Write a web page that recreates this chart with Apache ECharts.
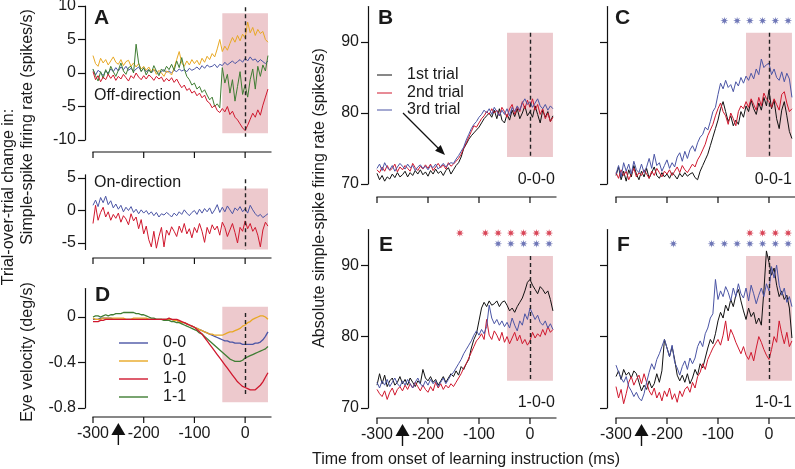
<!DOCTYPE html>
<html>
<head>
<meta charset="utf-8">
<script src="https://cdn.jsdelivr.net/npm/echarts@6/dist/echarts.min.js"></script>
<style>
  html, body { margin: 0; padding: 0; background: #fff; }
  #chart { width: 795px; height: 469px; }
</style>
</head>
<body>
<div id="chart"></div>
<script>
// time base, 5 ms bins from -300 to 45 ms
const t = [];
for (let ms = -300; ms <= 45; ms += 5) t.push(ms);

const xTicks = [-300, -200, -100, 0];
const xRange = [-300, 52];
const shadeX = [-45, 45];

// Panel A, off-direction (trial-over-trial change, spikes/s)
const off00 = [0.5, -0.3, 0.4, 0.1, -0.4, 0.3, 0.0, 0.6, 0.2, 0.8,
  0.3, 0.9, 0.5, 1.0, 0.4, 0.7, 0.2, 0.6, 0.9, 0.3,
  0.7, 0.2, 0.5, 0.0, 0.4, 0.3, -0.1, 0.2, 0.5, 0.1,
  0.3, 0.0, 0.4, 0.2, 0.6, 0.3, 0.5, 0.2, 0.7, 0.4,
  0.6, 0.9, 0.5, 1.1, 0.7, 1.2, 0.9, 1.0, 1.3, 0.8,
  1.3, 1.1, 1.6, 1.2, 1.5, 1.8, 1.4, 1.7, 2.0, 1.6,
  2.2, 1.8, 2.4, 1.9, 2.1, 1.6, 2.0, 1.7, 1.4, 1.8];
const off01 = [2.6, 1.4, 1.0, 2.2, 1.5, 2.0, 1.2, 1.8, 2.4, 1.6,
  1.3, 2.0, 1.1, 1.7, 1.9, 1.0, 1.5, 0.9, 1.4, 0.6,
  1.0, 0.4, 0.9, 0.2, 0.6, -0.2, 0.4, 0.0, -0.5, 0.3,
  0.1, -0.3, 0.8, 2.0, 3.2, 1.5, 1.0, 1.8, 1.2, 2.0,
  1.4, 1.9, 1.2, 2.2, 1.6, 2.5, 2.0, 2.9, 2.4, 3.6,
  5.0, 3.2, 4.0, 3.4, 4.4, 5.3, 4.6, 5.6, 4.8, 5.8,
  5.2, 7.6, 6.0, 6.8, 5.6, 6.5, 5.9, 6.2, 5.0, 4.6];
const off10 = [0.2, -1.0, -0.4, -1.3, -0.6, -1.0, -0.2, -0.8, -0.3, -1.1,
  -0.5, -0.9, -0.2, -0.7, -1.2, -0.4, -0.8, 0.0, -0.6, -1.0,
  -0.4, -0.9, -0.3, -0.6, -1.1, -0.5, -0.9, -0.6, -1.3, -0.8,
  -1.2, -0.7, -1.4, -0.9, -1.6, -2.2, -1.8, -2.6, -2.3, -3.0,
  -2.7, -3.4, -3.0, -3.7, -3.3, -4.2, -4.5, -5.2, -4.8, -5.6,
  -5.9, -5.3, -5.8, -5.0, -6.2, -5.7, -6.6, -7.0, -7.6, -8.2,
  -8.6, -7.8, -6.9, -6.0, -6.6, -5.5, -6.3, -4.8, -3.6, -2.4];
const off11 = [0.6, -0.4, -1.2, 0.2, -0.8, 0.5, -0.3, 1.0, 0.2, -0.5,
  0.4, 1.5, 0.3, -0.2, 0.8, 1.0, 0.0, 4.3, 1.5, 0.2,
  0.8, -0.3, 0.5, 0.0, 1.1, 0.3, -0.4, 0.6, 0.2, 1.0,
  0.5, 1.3, 0.4, 1.8, 0.8, 2.3, 0.6, -0.5, -1.0, -1.8,
  -1.5, -2.4, -2.0, -2.9, -2.5, -3.3, -4.0, -3.6, -5.0, -4.6,
  -5.2, 0.8, -1.5, -0.2, -3.0, -1.0, -4.2, -2.0, 0.2, -3.2,
  -1.8, -3.6, -1.0, 0.6, -2.4, 1.0, -0.5, 1.2, 0.3, 2.6];

// Panel A, on-direction
const on00 = [0.8, 1.6, 0.6, 2.0, 1.2, 2.2, 0.9, 1.5, 0.4, 1.0,
  0.2, 0.8, -0.2, 0.5, 0.0, 0.6, -0.3, 0.2, -0.5, 0.1,
  -0.4, 0.0, -0.6, -0.2, -0.8, -0.3, -1.0, -0.5, -0.7, -0.3,
  -0.6, -1.0, -0.4, -0.8, -0.2, -0.6, 0.1, -0.4, -0.8, -0.3,
  0.0, -0.6, 0.2, -0.4, 0.3, -0.2, 0.4, -0.5, 0.1, 0.9,
  -0.3, 0.5, -0.2, 0.7, 0.1, -0.5, 0.4, 0.0, 0.6, -0.2,
  0.3, -0.4, 0.8, 0.1, -0.5, -0.9, -0.6, -1.1, -0.8, -0.5];
const on10 = [-2.0, 0.8, -1.5, -0.3, 0.5, -1.0, -0.2, -1.5, -0.6, -1.2,
  -0.4, -1.8, -0.8, -1.3, -2.2, -0.5, -1.6, -1.0, -2.8, -1.4,
  -3.6, -2.4, -4.5, -5.6, -3.2, -5.8, -4.0, -2.6, -5.6, -3.0,
  -3.8, -2.5, -3.2, -4.0, -2.4, -3.4, -2.0, -3.6, -2.8, -4.2,
  -2.6, -3.4, -2.0, -3.2, -4.9, -2.6, -3.6, -2.2, -3.0, -2.4,
  -3.8, -1.8, -2.6, -4.0, -3.0, -2.0, -3.4, -5.0, -2.6, -3.2,
  -1.6, -2.8, -2.0, -3.2, -2.6, -3.8, -5.6, -3.0, -1.8, -2.4];

// Panel D, eye velocity (deg/s)
const eye00 = [-0.02, -0.02, -0.02, -0.01, -0.01, -0.01, -0.01, -0.01, -0.02, -0.02,
  -0.02, -0.02, -0.02, -0.02, -0.02, -0.02, -0.02, -0.02, -0.02, -0.02,
  -0.02, -0.02, -0.02, -0.02, -0.02, -0.02, -0.02, -0.02, -0.02, -0.02,
  -0.02, -0.02, -0.03, -0.03, -0.04, -0.05, -0.05, -0.06, -0.07, -0.08,
  -0.09, -0.10, -0.11, -0.12, -0.13, -0.14, -0.15, -0.16, -0.17, -0.18,
  -0.19, -0.20, -0.21, -0.21, -0.22, -0.22, -0.23, -0.23, -0.23, -0.24,
  -0.24, -0.24, -0.24, -0.24, -0.23, -0.23, -0.22, -0.20, -0.17, -0.13];
const eye01 = [-0.01, -0.02, -0.02, -0.02, -0.01, -0.01, -0.01, -0.01, -0.01, -0.01,
  -0.01, -0.01, -0.01, -0.02, -0.02, -0.02, -0.01, -0.01, -0.01, -0.01,
  -0.01, -0.01, -0.02, -0.02, -0.02, -0.02, -0.02, -0.02, -0.02, -0.02,
  -0.02, -0.02, -0.03, -0.03, -0.04, -0.05, -0.05, -0.06, -0.07, -0.08,
  -0.09, -0.10, -0.11, -0.12, -0.13, -0.14, -0.15, -0.15, -0.16, -0.16,
  -0.16, -0.16, -0.15, -0.14, -0.13, -0.13, -0.12, -0.11, -0.10, -0.08,
  -0.07, -0.05, -0.04, -0.02, -0.01, 0.00, 0.01, 0.01, 0.00, -0.02];
const eye10 = [-0.04, -0.04, -0.04, -0.03, -0.03, -0.02, -0.02, -0.02, -0.02, -0.02,
  -0.02, -0.02, -0.02, -0.02, -0.02, -0.02, -0.02, -0.02, -0.02, -0.02,
  -0.02, -0.02, -0.02, -0.02, -0.02, -0.02, -0.02, -0.02, -0.02, -0.02,
  -0.01, -0.02, -0.02, -0.02, -0.03, -0.04, -0.05, -0.06, -0.07, -0.08,
  -0.09, -0.11, -0.13, -0.15, -0.18, -0.21, -0.24, -0.27, -0.30, -0.33,
  -0.36, -0.39, -0.42, -0.45, -0.48, -0.51, -0.54, -0.57, -0.59, -0.61,
  -0.62, -0.63, -0.64, -0.64, -0.64, -0.62, -0.60, -0.57, -0.53, -0.49];
const eye11 = [0.00, 0.01, 0.01, 0.00, 0.01, 0.02, 0.01, 0.02, 0.02, 0.03,
  0.03, 0.03, 0.04, 0.04, 0.04, 0.04, 0.04, 0.03, 0.03, 0.02,
  0.02, 0.01, 0.00, -0.01, -0.01, -0.02, -0.02, -0.02, -0.03, -0.03,
  -0.03, -0.04, -0.04, -0.05, -0.05, -0.06, -0.07, -0.08, -0.09, -0.10,
  -0.11, -0.12, -0.14, -0.15, -0.17, -0.19, -0.21, -0.23, -0.25, -0.27,
  -0.29, -0.31, -0.33, -0.35, -0.37, -0.38, -0.39, -0.39, -0.39, -0.38,
  -0.36, -0.35, -0.34, -0.33, -0.32, -0.31, -0.30, -0.29, -0.28, -0.26];

// Panels B, C, E, F: absolute simple-spike rate, 1st / 2nd / 3rd trial
const b1st = [71.5, 70.6, 71.2, 70.4, 71.0, 70.7, 71.4, 70.9, 71.6, 71.0,
  71.3, 71.8, 71.0, 71.6, 71.2, 71.9, 71.4, 72.0, 71.3, 71.7,
  71.1, 71.9, 71.4, 72.1, 71.5, 71.8, 71.2, 71.9, 72.3, 71.4,
  72.0, 72.6, 73.0, 73.8, 75.0, 75.6, 76.3, 76.8, 77.2, 77.6,
  78.0, 78.6, 79.2, 79.6, 80.0, 79.4, 80.4, 79.2, 80.6, 79.0,
  78.6, 79.8, 79.0, 80.4, 79.5, 80.6, 79.2, 80.0, 81.0, 79.6,
  80.2, 79.4, 81.0, 79.8, 78.6, 80.4, 79.4, 80.2, 78.8, 79.6];
const b2nd = [72.0, 71.6, 72.4, 71.8, 72.6, 71.9, 72.2, 72.8, 71.7, 72.4,
  72.0, 72.6, 72.2, 71.8, 72.9, 72.3, 71.9, 72.5, 72.1, 72.7,
  72.2, 72.8, 71.9, 72.4, 72.9, 72.3, 72.7, 72.1, 73.0, 72.5,
  72.8, 73.2, 73.6, 74.2, 75.0, 75.8, 76.6, 77.4, 78.2, 78.0,
  78.6, 79.2, 79.6, 80.2, 79.8, 80.6, 80.0, 80.4, 79.6, 80.8,
  80.2, 79.4, 80.6, 81.2, 79.8, 80.8, 80.2, 81.6, 80.6, 81.8,
  80.8, 82.0, 80.4, 81.2, 79.8, 80.6, 79.2, 80.0, 78.8, 79.4];
const b3rd = [72.2, 72.8, 71.9, 73.0, 72.3, 72.0, 72.6, 71.8, 72.4, 72.9,
  72.5, 72.1, 72.8, 72.3, 72.6, 71.9, 72.4, 72.7, 72.2, 72.5,
  72.0, 72.6, 72.3, 72.8, 72.1, 72.5, 72.9, 72.4, 72.8, 73.0,
  72.9, 73.5, 74.0, 74.6, 75.2, 76.2, 77.0, 77.8, 78.4, 78.8,
  79.4, 79.8, 80.4, 80.0, 80.6, 79.8, 80.8, 80.2, 79.6, 80.4,
  79.8, 80.6, 79.6, 80.8, 80.2, 81.0, 80.4, 81.4, 82.0, 81.2,
  81.6, 80.8, 81.4, 82.0, 81.0, 80.6, 81.2, 80.4, 81.0, 80.6];

const c1st = [71.2, 72.4, 70.6, 71.8, 70.4, 72.0, 71.0, 72.6, 71.4, 70.6,
  71.8, 71.0, 72.2, 70.8, 71.6, 72.4, 71.2, 70.8, 71.6, 71.0,
  71.4, 70.8, 71.6, 71.2, 70.7, 71.5, 71.0, 71.6, 71.1, 71.4,
  71.6, 70.9, 70.6, 71.8, 72.6, 73.4, 74.2, 75.4, 76.6, 77.8,
  79.0, 80.6, 81.6, 80.2, 78.8, 79.6, 78.2, 79.0, 78.4, 80.2,
  79.4, 81.0, 80.2, 81.8, 80.6, 79.8, 81.4, 80.4, 82.2, 81.0,
  83.2, 80.6, 81.8, 79.2, 77.8, 80.4, 81.6, 79.6, 77.4, 76.4];
const c2nd = [71.6, 70.8, 72.0, 71.2, 71.8, 70.6, 71.4, 72.2, 71.0, 71.6,
  71.2, 72.0, 71.4, 70.8, 71.8, 71.2, 72.2, 71.6, 71.0, 71.8,
  71.4, 72.0, 71.2, 71.8, 72.4, 71.6, 72.6, 72.0, 71.6, 72.2,
  72.8, 72.4, 73.4, 74.0, 74.8, 75.6, 76.8, 77.6, 78.4, 79.6,
  80.6, 81.4, 80.2, 79.6, 78.4, 80.0, 79.2, 78.2, 80.2, 81.0,
  80.6, 81.6, 80.8, 82.0, 81.2, 80.4, 82.2, 81.0, 82.8, 82.0,
  81.6, 80.8, 82.0, 81.2, 80.4, 82.6, 83.0, 81.4, 80.2, 80.6];
const c3rd = [71.4, 72.6, 71.0, 73.0, 71.8, 72.8, 71.4, 73.2, 72.0, 71.6,
  72.8, 71.6, 72.4, 73.6, 72.2, 74.2, 72.6, 73.0, 71.8, 72.6,
  73.4, 72.2, 73.0, 72.4, 73.8, 74.4, 73.2, 74.6, 73.6, 74.8,
  75.4, 74.6, 75.8, 76.6, 77.0, 78.0, 77.6, 78.8, 80.2, 80.8,
  82.6, 84.2, 83.4, 84.6, 83.6, 84.0, 83.0, 84.4, 83.8, 85.0,
  84.2, 85.2, 84.6, 85.6, 84.8, 86.2, 85.4, 87.6, 86.4, 86.8,
  87.0, 85.4, 86.2, 85.0, 84.6, 85.8, 84.4, 85.6, 84.8, 82.2];

const e1st = [73.2, 74.8, 73.4, 74.6, 73.0, 73.8, 74.2, 73.2, 73.6, 74.4,
  73.4, 74.0, 73.2, 74.2, 73.6, 73.0, 73.8, 73.4, 75.4, 74.2,
  73.8, 74.4, 73.6, 74.0, 73.2, 73.8, 74.4, 73.6, 74.2, 74.8,
  74.4, 75.2, 74.6, 75.8, 75.4, 76.2, 76.8, 78.4, 79.6, 80.4,
  82.2, 84.0, 84.8, 84.2, 85.0, 84.4, 84.6, 85.0, 84.2, 84.8,
  85.0, 84.4, 83.6, 84.0, 83.4, 84.2, 84.8, 85.4, 86.4, 87.6,
  88.0, 87.2, 86.6, 86.0, 87.0, 86.6, 86.0, 86.4, 85.2, 83.6];
const e2nd = [72.6, 72.0, 71.6, 72.4, 71.2, 72.2, 72.8, 71.8, 72.6, 73.0,
  72.4, 73.2, 72.6, 73.4, 72.8, 73.6, 73.0, 72.4, 73.2, 72.6,
  72.2, 73.0, 72.4, 73.6, 72.8, 73.4, 72.6, 73.2, 72.8, 73.4,
  73.0, 73.6, 74.2, 74.8, 75.6, 76.2, 77.0, 77.8, 78.6, 79.4,
  79.8, 80.4, 79.6, 82.4, 80.2, 79.6, 80.8, 80.2, 79.4, 80.6,
  79.2, 80.0, 79.0, 79.8, 80.6, 79.4, 80.2, 79.0, 79.6, 78.8,
  79.4, 80.6, 79.8, 80.4, 80.0, 81.0, 80.2, 81.4, 80.6, 81.0];
const e3rd = [73.6, 72.8, 73.8, 73.2, 74.0, 73.0, 73.6, 74.2, 73.4, 73.0,
  73.8, 73.2, 74.0, 73.4, 72.8, 73.6, 74.2, 73.4, 73.0, 73.8,
  73.2, 74.0, 73.4, 73.8, 73.0, 73.6, 74.2, 73.4, 74.0, 74.6,
  75.0, 75.6, 76.2, 76.8, 77.6, 78.2, 78.8, 79.4, 80.2, 80.8,
  80.2, 81.0, 80.4, 81.4, 84.4, 82.6, 81.8, 82.4, 81.6, 82.2,
  81.4, 82.0, 81.2, 82.6, 81.6, 80.8, 82.2, 81.6, 83.2, 82.4,
  84.0, 83.2, 82.4, 83.0, 82.0, 81.6, 82.2, 81.2, 81.8, 81.0];

const f1st = [74.4, 75.2, 74.0, 75.4, 74.6, 75.0, 74.2, 75.2, 74.8, 73.6,
  72.4, 73.2, 72.6, 73.8, 72.8, 73.4, 74.8, 73.6, 75.2, 79.6,
  78.4, 77.2, 78.6, 76.8, 74.6, 73.8, 74.6, 73.6, 74.8, 73.4,
  74.2, 75.4, 74.6, 76.2, 75.6, 77.0, 78.4, 79.6, 79.0, 80.4,
  82.2, 83.4, 82.6, 84.4, 83.6, 85.2, 84.2, 85.8, 86.6, 85.0,
  83.6, 82.4, 84.0, 82.8, 83.4, 81.8, 82.6, 81.6, 86.4, 92.0,
  90.4, 88.6, 89.6, 87.2, 85.6, 86.4, 85.2, 85.8, 84.0, 79.8];
const f2nd = [73.0, 71.4, 72.6, 70.6, 72.0, 73.6, 74.4, 73.2, 74.0, 74.6,
  73.4, 74.8, 73.6, 72.4, 71.8, 72.8, 71.4, 72.2, 71.0, 72.4,
  71.6, 72.8, 71.2, 72.0, 70.8, 72.4, 71.6, 72.6, 73.0, 72.2,
  73.6, 72.8, 74.4, 75.0, 76.2, 75.4, 76.8, 77.6, 78.4, 79.0,
  79.6, 78.8, 80.2, 82.2, 79.4, 81.0, 80.2, 79.2, 78.4, 77.6,
  78.6, 77.4, 76.8, 77.8, 76.6, 78.4, 80.0, 79.2, 78.2, 77.4,
  76.8, 78.2, 80.0, 79.2, 82.2, 80.4, 79.0, 80.6, 78.6, 79.4];
const f3rd = [76.0, 75.0, 74.2, 73.6, 74.4, 73.0, 72.4, 71.6, 72.2, 71.4,
  71.0, 72.0, 73.6, 75.0, 76.2, 75.4, 76.8, 77.6, 78.6, 79.6,
  78.4, 77.2, 78.8, 76.4, 75.6, 74.6, 75.8, 76.6, 75.4, 77.0,
  76.2, 77.0, 78.6, 79.4, 78.6, 80.4, 81.2, 82.6, 83.2, 88.0,
  85.2, 86.4, 85.6, 87.0, 86.2, 85.0, 86.8, 85.6, 87.4, 86.0,
  85.4, 86.8, 85.0, 87.2, 86.0, 84.6, 85.8, 86.8, 85.6, 87.4,
  86.4, 89.8, 88.2, 90.0, 87.2, 85.8, 86.8, 84.8, 85.6, 84.2];

// significance asterisks (bin centres, ms)
const starsC3rd = [-87.5, -62.5, -37.5, -12.5, 12.5, 37.5];
const starsE2nd = [-137.5, -87.5, -62.5, -37.5, -12.5, 12.5, 37.5];
const starsE3rd = [-62.5, -37.5, -12.5, 12.5, 37.5];
const starsF2nd = [-37.5, -12.5, 12.5, 37.5];
const starsF3rd = [-187.5, -112.5, -87.5, -62.5, -37.5, -12.5, 12.5, 37.5];
const starRowHigh = 94.5;
const starRowLow = 93;

const BLACK = '#111111', RED = '#d0182e', BLUE = '#4b55a5', YELLOW = '#e8a824', GREEN = '#3f7d33';
const SHADE = '#edc9cd';
const INK = '#1a1a1a';
const FONT = "'Liberation Sans', Arial, sans-serif";
const STAR = 'path://M10 0L11.53 6.3L17.07 2.93L13.7 8.47L20 10L13.7 11.53L17.07 17.07L11.53 13.7L10 20L8.47 13.7L2.93 17.07L6.3 11.53L0 10L6.3 8.47L2.93 2.93L8.47 6.3Z';

const panels = [
  { left: 93, top: 6, width: 178.5, height: 134, yMin: -10, yMax: 10, yTicks: [-10, -5, 0, 5, 10], yOff: 8, xOff: 12, xLab: false, yLab: true, shadeY: [8.9, -9], dashY: [9.8, -9.5],
    lines: [[off00, BLUE], [off01, YELLOW], [off11, GREEN], [off10, RED]] },
  { left: 93, top: 174.75, width: 178.5, height: 74.75, yMin: -6, yMax: 5.5, yTicks: [-5, 0, 5], yOff: 8, xOff: 8.5, xLab: false, yLab: true, shadeY: [3.4, -6], dashY: [4.8, -6],
    lines: [[on00, BLUE], [on10, RED]] },
  { left: 93, top: 288.6, width: 178.5, height: 119.4, yMin: -0.8, yMax: 0.25, yTicks: [-0.8, -0.4, 0], yOff: 8, xOff: 9, xLab: true, yLab: true, shadeY: [0.09, -0.75], dashY: [0.035, -0.7],
    lines: [[eye00, BLUE], [eye01, YELLOW], [eye11, GREEN], [eye10, RED]], lw: 1.3 },
  { left: 377, top: 6.5, width: 179.5, height: 177.5, yMin: 70, yMax: 95, yTicks: [70, 80, 90], yOff: 9, xOff: 13, xLab: false, yLab: true, shadeY: [91.3, 73.8], dashY: [91.3, 73.8],
    lines: [[b1st, BLACK], [b2nd, RED], [b3rd, BLUE]] },
  { left: 616, top: 6.5, width: 179.5, height: 177.5, yMin: 70, yMax: 95, yTicks: [70, 80, 90], yOff: 9, xOff: 13, xLab: false, yLab: false, shadeY: [91.3, 73.8], dashY: [91.3, 73.8],
    lines: [[c1st, BLACK], [c2nd, RED], [c3rd, BLUE]], stars: [[starsC3rd, starRowLow, BLUE]] },
  { left: 377, top: 229.5, width: 179.5, height: 178.5, yMin: 70, yMax: 95, yTicks: [70, 80, 90], yOff: 9, xOff: 10, xLab: true, yLab: true, shadeY: [91.3, 73.8], dashY: [91.3, 73.8],
    lines: [[e1st, BLACK], [e2nd, RED], [e3rd, BLUE]], stars: [[starsE2nd, starRowHigh, RED], [starsE3rd, starRowLow, BLUE]] },
  { left: 616, top: 229.5, width: 179.5, height: 178.5, yMin: 70, yMax: 95, yTicks: [70, 80, 90], yOff: 9, xOff: 10, xLab: true, yLab: false, shadeY: [91.3, 73.8], dashY: [91.3, 73.8],
    lines: [[f1st, BLACK], [f2nd, RED], [f3rd, BLUE]], stars: [[starsF2nd, starRowHigh, RED], [starsF3rd, starRowLow, BLUE]] }
];

const grid = [], xAxis = [], yAxis = [], series = [];
panels.forEach((p, gi) => {
  grid.push({ left: p.left, top: p.top, width: p.width, height: p.height, containLabel: false, outerBoundsMode: 'none' });
  // time axis scale; its line, ticks and labels are drawn below from this scale
  xAxis.push({ type: 'value', gridIndex: gi, min: xRange[0], max: xRange[1], show: false });
  yAxis.push({
    type: 'value', gridIndex: gi, min: p.yMin, max: p.yMax, offset: p.yOff, position: 'left',
    axisLine: { show: true, onZero: false, lineStyle: { color: '#111', width: 1.2 } },
    splitLine: { show: false },
    axisTick: { show: true, length: 7, inside: false, customValues: p.yTicks, lineStyle: { color: '#111', width: 1.2 } },
    axisLabel: { show: p.yLab, margin: 9, customValues: p.yTicks, hideOverlap: false, color: INK, fontSize: 16, fontFamily: FONT }
  });
  p.lines.forEach((ln, k) => {
    const s = {
      type: 'line', xAxisIndex: gi, yAxisIndex: gi,
      data: ln[0].map((v, i) => [t[i], v]),
      symbol: 'none', showSymbol: false, silent: true, animation: false,
      lineStyle: { color: ln[1], width: p.lw || 1 }, itemStyle: { color: ln[1] }, z: 2
    };
    if (k === 0) {
      s.markArea = {
        silent: true, itemStyle: { color: SHADE },
        data: [[{ coord: [shadeX[0], p.shadeY[0]] }, { coord: [shadeX[1], p.shadeY[1]] }]]
      };
      s.markLine = {
        silent: true, symbol: 'none', animation: false, label: { show: false },
        lineStyle: { color: '#222', type: [4, 3], width: 1.4 },
        data: [[{ coord: [0, p.dashY[0]] }, { coord: [0, p.dashY[1]] }]]
      };
    }
    series.push(s);
  });
  (p.stars || []).forEach(st => {
    series.push({
      type: 'scatter', xAxisIndex: gi, yAxisIndex: gi, silent: true, animation: false,
      data: st[0].map(x => [x, st[1]]),
      symbol: STAR, symbolSize: 8, itemStyle: { color: st[2] }
    });
  });
});

function txt(text, x, y, opts) {
  return Object.assign({
    type: 'text', x, y, silent: true,
    style: Object.assign({ text, font: '16px ' + FONT, fill: INK, textAlign: 'left', textVerticalAlign: 'middle' }, opts && opts.style)
  }, opts && opts.el);
}
function seg(x1, y1, x2, y2, color, w) {
  return { type: 'line', silent: true, shape: { x1, y1, x2, y2 }, style: { stroke: color, lineWidth: w || 1.2 } };
}
const bold = { style: { font: 'bold 21px ' + FONT } };
const rot = { el: { rotation: Math.PI / 2 }, style: { textAlign: 'center' } };

const graphic = [
  txt('A', 94, 18, bold), txt('B', 378, 18, bold), txt('C', 615, 18, bold),
  txt('D', 95, 295, bold), txt('E', 379, 245, bold), txt('F', 617, 245, bold),
  txt('Off-direction', 94, 96), txt('On-direction', 94, 183),
  txt('0-0-0', 555, 180, { style: { textAlign: 'right' } }),
  txt('0-0-1', 792, 180, { style: { textAlign: 'right' } }),
  txt('1-0-0', 555, 403, { style: { textAlign: 'right' } }),
  txt('1-0-1', 792, 403, { style: { textAlign: 'right' } }),
  // legend panel B
  seg(377, 75, 392, 75, BLACK, 1), seg(377, 93, 392, 93, RED, 1), seg(377, 110, 392, 110, BLUE, 1),
  txt('1st trial', 407, 75), txt('2nd trial', 407, 93), txt('3rd trial', 407, 110),
  seg(403, 113, 438.5, 148.5, '#111', 1.2),
  { type: 'polygon', silent: true, shape: { points: [[445, 155], [435.1, 150.7], [440.7, 145.1]] }, style: { fill: '#111' } },
  // legend panel D
  seg(119, 343, 148, 343, BLUE, 1.4), seg(119, 361, 148, 361, YELLOW, 1.4),
  seg(119, 379, 148, 379, RED, 1.4), seg(119, 397, 148, 397, GREEN, 1.4),
  txt('0-0', 163, 343), txt('0-1', 163, 361), txt('1-0', 163, 379), txt('1-1', 163, 397),
  // axis titles
  txt('Trial-over-trial change in:', 9, 197, rot),
  txt('Simple-spike firing rate (spikes/s)', 28, 127, rot),
  txt('Eye velocity (deg/s)', 28, 352, rot),
  txt('Absolute simple-spike firing rate (spikes/s)', 320, 198, rot),
  txt('Time from onset of learning instruction (ms)', 466, 460, { style: { textAlign: 'center' } })
];

const chart = echarts.init(document.getElementById('chart'), null, { renderer: 'canvas' });
chart.setOption({ animation: false, backgroundColor: '#fff', grid, xAxis, yAxis, series, graphic });

// detached time axes, placed through each panel's x scale
const arrowAt = -250;
panels.forEach((p, gi) => {
  const px = v => chart.convertToPixel({ xAxisIndex: gi }, v);
  const axisY = p.top + p.height + p.xOff;
  graphic.push(seg(px(xRange[0]) - 0.6, axisY, px(xRange[1]), axisY, '#111', 1.2));
  xTicks.forEach(v => {
    graphic.push(seg(px(v), axisY, px(v), axisY + 6, '#111', 1.2));
    if (p.xLab) graphic.push(txt(String(v), px(v), axisY + 9, { style: { textAlign: 'center', textVerticalAlign: 'top' } }));
  });
  if (p.xLab) {
    // learning-instruction arrow
    const x = px(arrowAt), yTip = axisY + 6;
    graphic.push({ type: 'polygon', silent: true, shape: { points: [[x, yTip], [x - 7, yTip + 12], [x + 7, yTip + 12]] }, style: { fill: '#111' } });
    graphic.push(seg(x, yTip + 10, x, yTip + 22, '#111', 1.4));
  }
});
chart.setOption({ graphic });
</script>
</body>
</html>
